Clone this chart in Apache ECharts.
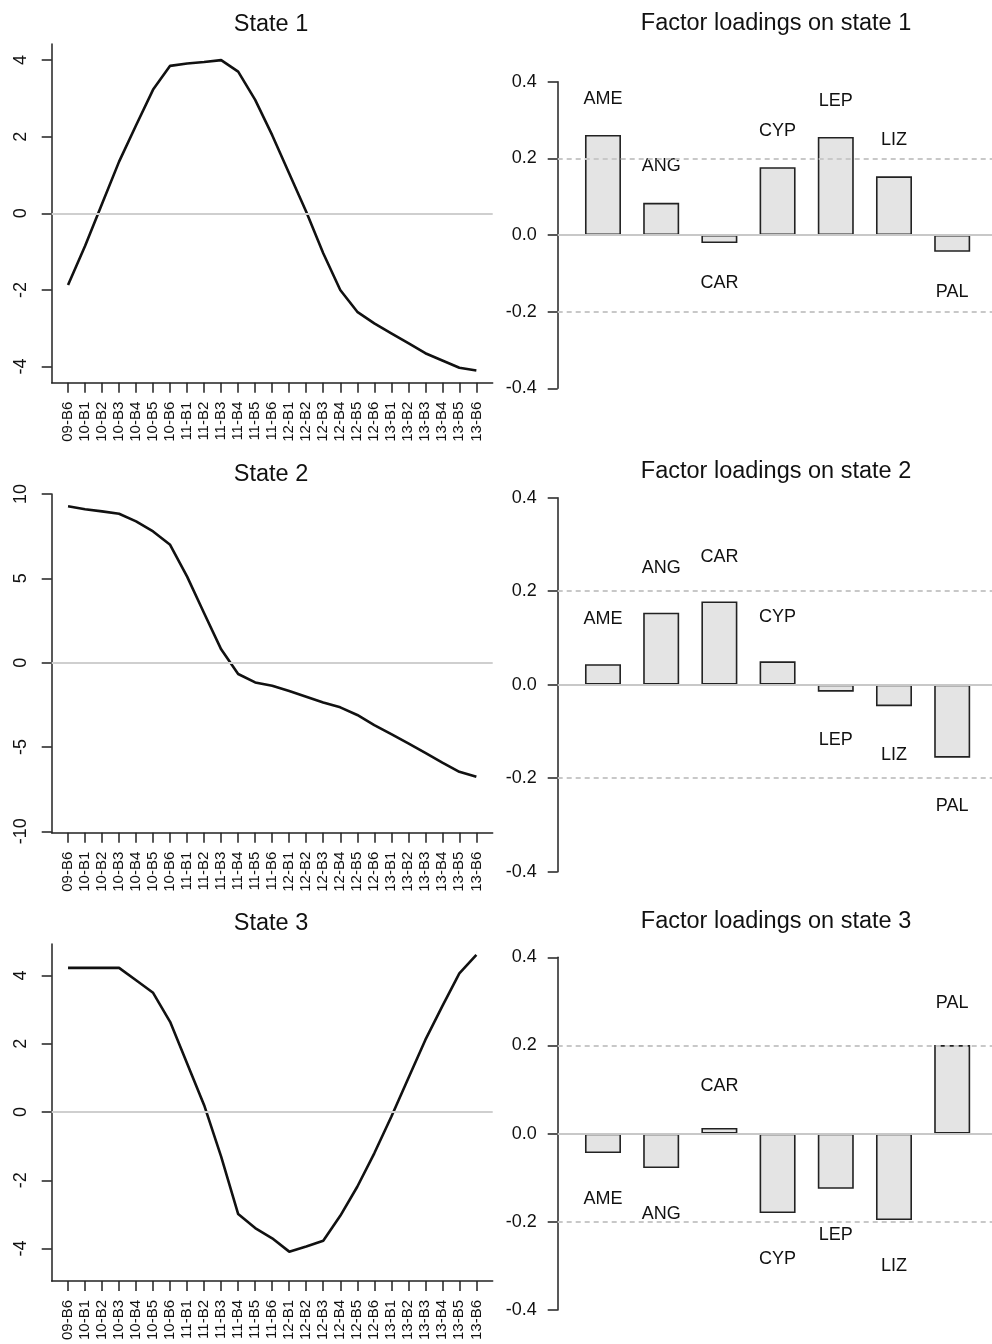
<!DOCTYPE html>
<html>
<head>
<meta charset="utf-8">
<script src="https://cdn.jsdelivr.net/npm/echarts@6/dist/echarts.min.js"></script>
<style>
  html, body { margin: 0; padding: 0; background: #fff; }
  #chart { width: 992px; height: 1344px; }
</style>
</head>
<body>
<div id="chart"></div>
<script>
// ---------------- data ----------------
const periods = ['09-B6','10-B1','10-B2','10-B3','10-B4','10-B5','10-B6',
  '11-B1','11-B2','11-B3','11-B4','11-B5','11-B6',
  '12-B1','12-B2','12-B3','12-B4','12-B5','12-B6',
  '13-B1','13-B2','13-B3','13-B4','13-B5','13-B6'];

const state1 = [-1.87, -0.85, 0.25, 1.35, 2.3, 3.23, 3.85, 3.91, 3.95, 4.0, 3.7, 2.96, 2.04,
  1.04, 0.04, -1.04, -2.0, -2.57, -2.87, -3.13, -3.39, -3.65, -3.84, -4.03, -4.1];
const state2 = [9.27, 9.1, 8.97, 8.83, 8.38, 7.78, 6.99, 5.1, 2.93, 0.79, -0.67, -1.17, -1.37,
  -1.68, -2.02, -2.36, -2.65, -3.1, -3.7, -4.24, -4.79, -5.35, -5.92, -6.47, -6.77];
const state3 = [4.22, 4.22, 4.22, 4.22, 3.86, 3.49, 2.64, 1.42, 0.2, -1.31, -2.99, -3.4, -3.7,
  -4.09, -3.94, -3.77, -3.04, -2.19, -1.21, -0.14, 0.99, 2.11, 3.1, 4.06, 4.6];

const species = ['AME','ANG','CAR','CYP','LEP','LIZ','PAL'];
const load1 = [0.261, 0.084, -0.021, 0.177, 0.256, 0.153, -0.044];
const load2 = [0.044, 0.154, 0.178, 0.05, -0.015, -0.046, -0.156];
const load3 = [-0.044, -0.078, 0.013, -0.18, -0.125, -0.196, 0.201];

const ticksState1 = [-4, -2, 0, 2, 4];
const ticksState2 = [-10, -5, 0, 5, 10];
const ticksState3 = [-4, -2, 0, 2, 4];
const ticksLoad = [-0.4, -0.2, 0, 0.2, 0.4];
const refLines = [-0.2, 0.2];

const stateTitles = ['State 1', 'State 2', 'State 3'];
const loadTitles = ['Factor loadings on state 1', 'Factor loadings on state 2', 'Factor loadings on state 3'];

// ---------------- layout ----------------
const FONT = '"Liberation Sans", Arial, Helvetica, sans-serif';
const TXT = '#111';
const AX = '#222';

const leftGrids = [
  { left: 51.7, top: 44, width: 441, height: 338.7, min: -4.42, max: 4.42 },
  { left: 51.7, top: 494, width: 441, height: 338.7, min: -10.08, max: 10.0 },
  { left: 51.7, top: 944, width: 441, height: 337, min: -4.95, max: 4.92 }
];
const rightGrids = [
  { left: 557.7, top: 81.7, width: 434.3, height: 306.6 },
  { left: 557.7, top: 497.7, width: 434.3, height: 374 },
  { left: 557.7, top: 957.3, width: 434.3, height: 352.7 }
];
const stateSeries = [state1, state2, state3];
const stateTicks = [ticksState1, ticksState2, ticksState3];
const loads = [load1, load2, load3];

const grid = [], xAxis = [], yAxis = [], series = [];

leftGrids.forEach((g, k) => {
  const idx = grid.length;
  grid.push({ left: g.left, top: g.top, width: g.width, height: g.height, containLabel: false });
  xAxis.push({
    type: 'value', gridIndex: idx, min: -0.96, max: 24.96,
    axisLine: { show: true, onZero: false, lineStyle: { color: AX, width: 1.5 } },
    axisTick: { show: true, length: 10, customValues: periods.map((p, i) => i), lineStyle: { color: AX, width: 1.5 } },
    axisLabel: {
      show: true, rotate: 90, margin: 19, fontSize: 15, color: TXT, fontFamily: FONT,
      customValues: periods.map((p, i) => i),
      formatter: v => periods[Math.round(v)]
    },
    splitLine: { show: false }
  });
  yAxis.push({
    type: 'value', gridIndex: idx, min: g.min, max: g.max,
    axisLine: { show: true, onZero: false, lineStyle: { color: AX, width: 1.5 } },
    axisTick: { show: true, length: 10, customValues: stateTicks[k], lineStyle: { color: AX, width: 1.5 } },
    axisLabel: {
      show: true, rotate: 90, margin: 22, fontSize: 18, color: TXT, fontFamily: FONT,
      customValues: stateTicks[k], formatter: v => String(v)
    },
    splitLine: { show: false }
  });
  series.push({
    type: 'line', xAxisIndex: idx, yAxisIndex: idx, data: [], z: 1, silent: true,
    markLine: {
      silent: true, symbol: ['none', 'none'], label: { show: false },
      lineStyle: { color: '#cfcfcf', type: 'solid', width: 2 },
      data: [{ yAxis: 0 }]
    }
  });
  series.push({
    type: 'line', xAxisIndex: idx, yAxisIndex: idx, z: 3,
    data: stateSeries[k].map((v, i) => [i, v]),
    symbol: 'none', smooth: false,
    lineStyle: { color: '#111', width: 2.6 }
  });
});

rightGrids.forEach((g, k) => {
  const idx = grid.length;
  grid.push({ left: g.left, top: g.top, width: g.width, height: g.height, containLabel: false });
  xAxis.push({
    type: 'value', gridIndex: idx, min: -0.778, max: 6.684, show: false,
    splitLine: { show: false }
  });
  yAxis.push({
    type: 'value', gridIndex: idx, min: -0.4, max: 0.4,
    axisLine: { show: true, onZero: false, lineStyle: { color: AX, width: 1.5 } },
    axisTick: { show: true, length: 10, customValues: ticksLoad, lineStyle: { color: AX, width: 1.5 } },
    axisLabel: {
      show: true, margin: 21, fontSize: 18, color: TXT, fontFamily: FONT,
      customValues: ticksLoad, formatter: v => v.toFixed(1)
    },
    splitLine: { show: false }
  });
  series.push({
    type: 'line', xAxisIndex: idx, yAxisIndex: idx, data: [], z: 1, silent: true,
    markLine: {
      silent: true, symbol: ['none', 'none'], label: { show: false },
      data: [
        { yAxis: 0, lineStyle: { color: '#c8c8c8', type: 'solid', width: 2 } },
        ...refLines.map(r => ({ yAxis: r, lineStyle: { color: '#c8c8c8', type: [5, 4], width: 2 } }))
      ]
    }
  });
  series.push({
    type: 'bar', xAxisIndex: idx, yAxisIndex: idx, z: 3,
    barWidth: 36,
    data: loads[k].map((v, i) => [i, v]),
    itemStyle: { color: '#e4e4e4', borderColor: '#222', borderWidth: 1.6 }
  });
  series.push({
    type: 'scatter', xAxisIndex: idx, yAxisIndex: idx, z: 4, silent: true,
    symbolSize: 1,
    itemStyle: { color: 'rgba(0,0,0,0)', opacity: 1 },
    data: loads[k].map((v, i) => [i, v + (v >= 0 ? 0.1 : -0.1)]),
    label: {
      show: true, position: 'inside', offset: [0, 2], fontSize: 18, color: TXT, opacity: 1, fontFamily: FONT,
      formatter: p => species[p.dataIndex]
    }
  });
});

const titlePos = [
  { x: 271, y: 25 }, { x: 271, y: 475 }, { x: 271, y: 924 }
];
const loadTitlePos = [
  { x: 776, y: 24 }, { x: 776, y: 472 }, { x: 776, y: 922 }
];
const graphic = [];
stateTitles.forEach((t, k) => graphic.push({
  type: 'text', x: titlePos[k].x, y: titlePos[k].y,
  style: { text: t, align: 'center', verticalAlign: 'middle', fontSize: 23.5, fontFamily: FONT, fill: TXT }
}));
loadTitles.forEach((t, k) => graphic.push({
  type: 'text', x: loadTitlePos[k].x, y: loadTitlePos[k].y,
  style: { text: t, align: 'center', verticalAlign: 'middle', fontSize: 23.5, fontFamily: FONT, fill: TXT }
}));

const chart = echarts.init(document.getElementById('chart'));
chart.setOption({
  animation: false,
  backgroundColor: '#ffffff',
  textStyle: { fontFamily: FONT },
  grid, xAxis, yAxis, series, graphic
});
</script>
</body>
</html>
